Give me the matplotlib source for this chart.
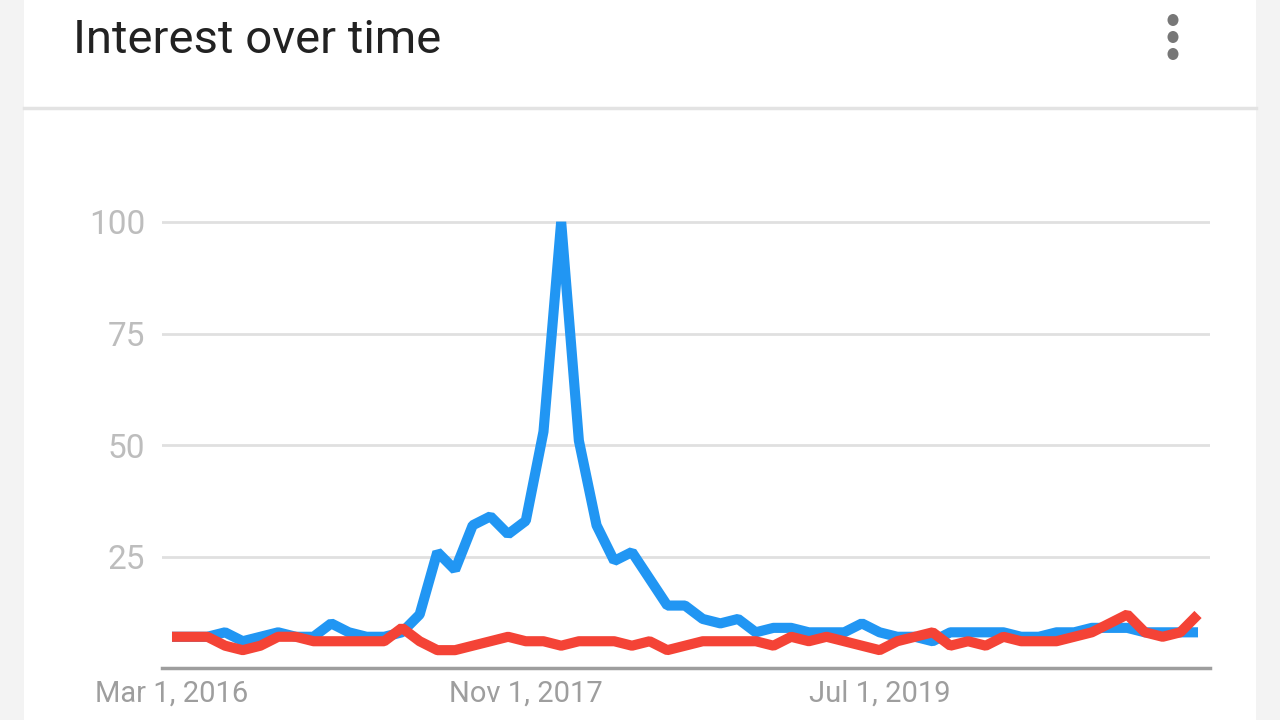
import matplotlib
matplotlib.use("Agg")
import matplotlib.pyplot as plt
from matplotlib.patches import Rectangle, Ellipse

# Data (monthly, Mar 2016 .. Jan 2021)
blue_values = [7, 7, 7, 8, 6, 7, 8, 7, 7, 10, 8, 7, 7, 8, 12, 26, 22, 32, 34, 30,
               33, 53, 100, 51, 32, 24, 26, 20, 14, 14, 11, 10, 11, 8, 9, 9, 8, 8, 8, 10,
               8, 7, 7, 6, 8, 8, 8, 8, 7, 7, 8, 8, 9, 9, 9, 8, 8, 8, 8]
red_values = [7, 7, 7, 5, 4, 5, 7, 7, 6, 6, 6, 6, 6, 9, 6, 4, 4, 5, 6, 7,
              6, 6, 5, 6, 6, 6, 5, 6, 4, 5, 6, 6, 6, 6, 5, 7, 6, 7, 6, 5,
              4, 6, 7, 8, 5, 6, 5, 7, 6, 6, 6, 7, 8, 10, 12, 8, 7, 8, 12]
x_tick_positions = [0, 20, 40]
x_tick_labels = ["Mar 1, 2016", "Nov 1, 2017", "Jul 1, 2019"]
y_ticks = [25, 50, 75, 100]
title = "Interest over time"

plt.rcParams['font.family'] = ['Roboto', 'DejaVu Sans']

W, H = 1280, 720
fig = plt.figure(figsize=(12.8, 7.2), dpi=100)
fig.patch.set_facecolor('#f3f3f3')

# white card
card = Rectangle((24 / W, 0), (1256 - 24) / W, 1, transform=fig.transFigure,
                 facecolor='white', edgecolor='none', zorder=-10)
fig.add_artist(card)
# divider under header
fig.add_artist(plt.Line2D([24 / W, 1256 / W], [1 - 108 / H, 1 - 108 / H],
                          color='#e3e3e3', lw=2.5, transform=fig.transFigure, zorder=-5))

# title
fig.text(73 / W, 1 - 40 / H, title, fontsize=34, color='#222222',
         ha='left', va='center')
# three-dot menu
for yy in (20, 37, 54):
    fig.add_artist(Ellipse((1173 / W, 1 - yy / H), 11 / W, 12 / H,
                           transform=fig.transFigure,
                           facecolor='#777777', edgecolor='none'))

# plot area
left_px, right_px = 162, 1210
bottom_px, top_px = 668, 150
ax = fig.add_axes([left_px / W, 1 - bottom_px / H,
                   (right_px - left_px) / W, (bottom_px - top_px) / H])
ax.set_zorder(5)
ax.set_facecolor('none')
n = len(blue_values)
x = list(range(n))
step = 17.7
ax.set_xlim(-(172 - left_px) / step, (n - 1) + (right_px - 1198) / step)
ax.set_ylim(0, (bottom_px - top_px) / 4.46)

ax.plot(x, blue_values, color='#2196f3', lw=7.3, solid_joinstyle='bevel',
        solid_capstyle='butt', zorder=3)
ax.plot(x, red_values, color='#f44336', lw=7.3, solid_joinstyle='bevel',
        solid_capstyle='butt', zorder=4)

ax.set_yticks(y_ticks)
ax.set_yticklabels([str(v) for v in y_ticks])
ax.yaxis.grid(True, color='#e0e0e0', lw=2)
ax.set_axisbelow(True)
ax.set_xticks(x_tick_positions)
ax.set_xticklabels(x_tick_labels)
ax.tick_params(axis='y', length=0, pad=12, labelsize=24, labelcolor='#bdbdbd')
ax.tick_params(axis='x', length=0, pad=8, labelsize=21, labelcolor='#9e9e9e')
for s in ['top', 'right', 'left']:
    ax.spines[s].set_visible(False)
ax.spines['bottom'].set_color('#9e9e9e')
ax.spines['bottom'].set_linewidth(2.5)

fig.savefig('out.png', dpi=100, facecolor=fig.get_facecolor())
